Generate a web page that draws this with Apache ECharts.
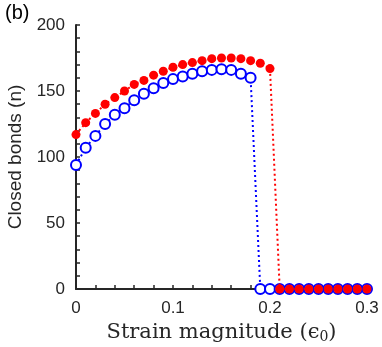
<!DOCTYPE html>
<html>
<head>
<meta charset="utf-8">
<script src="https://cdn.jsdelivr.net/npm/echarts@6/dist/echarts.min.js"></script>
<style>
html,body{margin:0;padding:0;background:#fff;}
#chart{width:382px;height:347px;}
</style>
</head>
<body>
<div id="chart"></div>
<script>
var strain = [0, 0.01, 0.02, 0.03, 0.04, 0.05, 0.06, 0.07, 0.08, 0.09, 0.10,
  0.11, 0.12, 0.13, 0.14, 0.15, 0.16, 0.17, 0.18, 0.19, 0.20,
  0.21, 0.22, 0.23, 0.24, 0.25, 0.26, 0.27, 0.28, 0.29, 0.30];
var redBonds = [117, 126, 133, 140, 145, 150, 155, 158, 162, 165, 168,
  170, 171.5, 173, 174.5, 175, 175, 174.5, 173, 171, 167,
  0, 0, 0, 0, 0, 0, 0, 0, 0, 0];
var blueBonds = [94, 107, 116, 125, 132, 137, 143, 148, 152, 156, 159,
  161, 163, 165, 166, 166.5, 166, 163, 160, 0, 0,
  0, 0, 0, 0, 0, 0, 0, 0, 0, 0];
var xTicks = [0, 0.1, 0.2, 0.3];
var yTicks = [0, 50, 100, 150, 200];

function pairs(xs, ys) { return xs.map(function (x, i) { return [x, ys[i]]; }); }

var axisColor = '#262626';
var chart = echarts.init(document.getElementById('chart'), null, {renderer: 'canvas'});
chart.setOption({
  animation: false,
  backgroundColor: '#ffffff',
  title: {
    text: '(b)', left: 0, top: -2,
    textStyle: {fontFamily: 'Liberation Sans', fontSize: 20, fontWeight: 'normal', color: '#000'}
  },
  grid: {left: 76, right: 15, top: 25, bottom: 58, containLabel: false, outerBoundsMode: 'none'},
  xAxis: {
    type: 'value', min: xTicks[0], max: xTicks[xTicks.length - 1], interval: 0.1,
    name: '{a|Strain magnitude (}{e|ϵ}{s|0}{a|)}',
    nameLocation: 'middle', nameGap: 31,
    nameTextStyle: {
      rich: {
        a: {fontFamily: 'DejaVu Serif', fontSize: 21, color: '#262626'},
        e: {fontFamily: 'DejaVu Serif', fontSize: 21, color: '#262626'},
        s: {fontFamily: 'DejaVu Serif', fontSize: 14, color: '#262626', verticalAlign: 'bottom', padding: [9, 0, 0, 0]}
      }
    },
    axisLine: {show: true, onZero: false, lineStyle: {color: axisColor, width: 2}},
    axisTick: {show: true, inside: true, length: 4, lineStyle: {color: axisColor, width: 1.5}},
    minorTick: {show: true, splitNumber: 5, length: 4, lineStyle: {color: axisColor, width: 1.5}},
    splitLine: {show: false},
    axisLabel: {
      margin: 11, color: '#262626', fontFamily: 'Liberation Sans', fontSize: 17,
      formatter: function (v) { return v === 0 ? '0' : String(Math.round(v * 10) / 10); }
    }
  },
  yAxis: {
    type: 'value', min: yTicks[0], max: yTicks[yTicks.length - 1], interval: 50,
    name: 'Closed bonds (n)', nameLocation: 'middle', nameGap: 50,
    nameTextStyle: {fontFamily: 'Liberation Sans', fontSize: 19, color: '#262626'},
    axisLine: {show: true, onZero: false, lineStyle: {color: axisColor, width: 2}},
    axisTick: {show: true, inside: true, length: 4, lineStyle: {color: axisColor, width: 1.5}},
    minorTick: {show: true, splitNumber: 5, length: 4, lineStyle: {color: axisColor, width: 1.5}},
    splitLine: {show: false},
    axisLabel: {margin: 11, color: '#262626', fontFamily: 'Liberation Sans', fontSize: 17}
  },
  series: [
    {
      type: 'line', data: pairs(strain, blueBonds), z: 2,
      symbol: 'emptyCircle', symbolSize: 10, showSymbol: true,
      itemStyle: {color: '#0000ff', borderColor: '#0000ff', borderWidth: 2},
      lineStyle: {color: '#0000ff', width: 2, type: [2, 3]},
      clip: false
    },
    {
      type: 'line', data: pairs(strain, redBonds), z: 3,
      symbol: 'circle', symbolSize: 9, showSymbol: true,
      itemStyle: {color: '#ff0000'},
      lineStyle: {color: '#ff0000', width: 2, type: [2, 3]},
      clip: false
    }
  ]
});
</script>
</body>
</html>
